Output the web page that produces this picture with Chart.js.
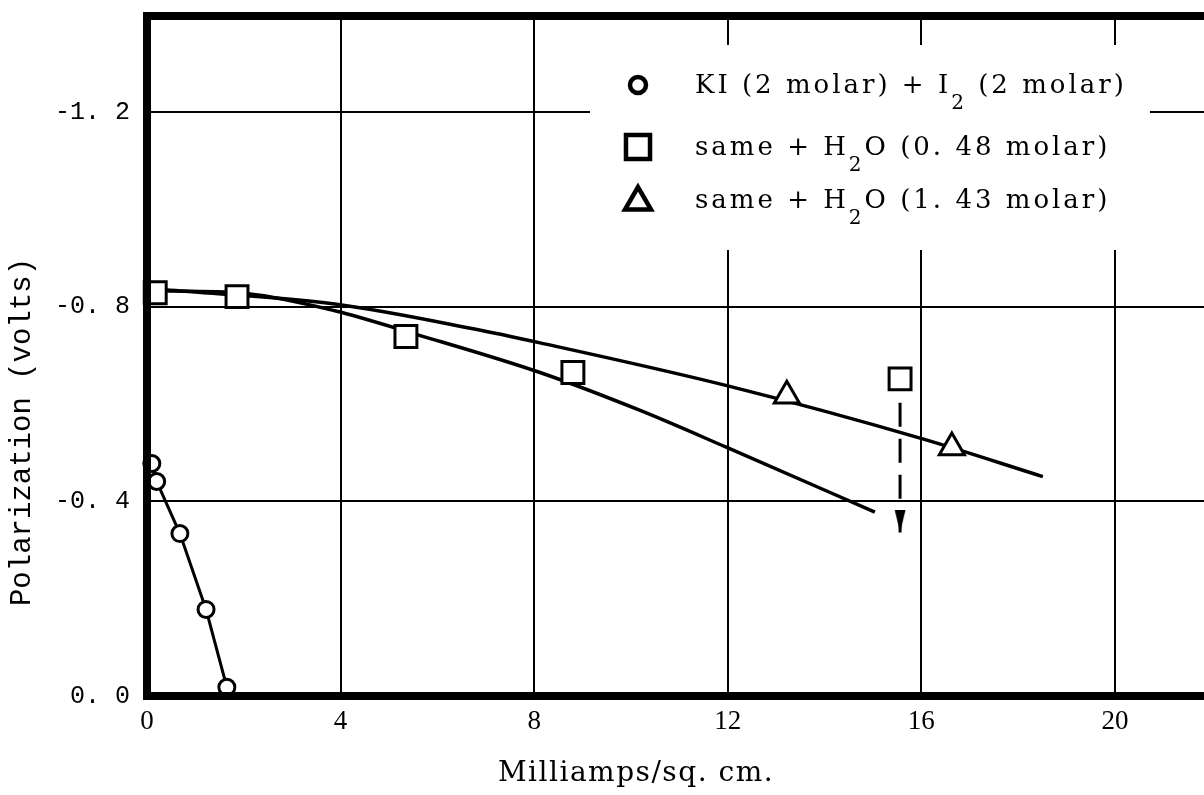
<!DOCTYPE html>
<html>
<head>
<meta charset="utf-8">
<title>Polarization</title>
<script src="https://cdn.jsdelivr.net/npm/chart.js@4.4.0/dist/chart.umd.min.js"></script>
<style>
body{margin:0;background:#fff;}
#caja{width:1204px;height:795px;}
</style>
</head>
<body>
<div id="caja"><canvas id="myChart" width="1204" height="795"></canvas></div>
<script>
// puntos medidos
var kiX = [0.1, 0.2, 0.68, 1.22, 1.65];
var kiY = [-0.478, -0.441, -0.334, -0.178, -0.018];

var h2o48X = [0.17, 1.86, 5.35, 8.80, 15.56];
var h2o48Y = [-0.829, -0.821, -0.739, -0.665, -0.652];

var h2o143X = [13.22, 16.63];
var h2o143Y = [-0.617, -0.511];

// curvas a mano
var curva48X = [0.37, 2.09, 3.88, 5.58, 8.12, 10.19, 11.98, 15.04];
var curva48Y = [-0.833, -0.827, -0.792, -0.743, -0.665, -0.587, -0.511, -0.378];

var curva143X = [0.37, 3.88, 6.74, 8.12, 11.98, 16.01, 18.51];
var curva143Y = [-0.835, -0.806, -0.755, -0.726, -0.638, -0.529, -0.451];

var flechaX = [15.56, 15.56];
var flechaY = [-0.603, -0.336];

var xTicks = [0, 4, 8, 12, 16, 20];
var yTicks = [0, -0.4, -0.8, -1.2];
var yEtiquetas = ['0. 0', '-0. 4', '-0. 8', '-1. 2'];

var leyenda = [
    ['KI (2 molar) + I', '2', ' (2 molar)'],
    ['same + H', '2', 'O (0. 48 molar)'],
    ['same + H', '2', 'O (1. 43 molar)']
];
var tituloX = 'Milliamps/sq. cm.';
var tituloY = 'Polarization (volts)';

function puntos(xs, ys){
    var r = [];
    for(var i=0;i<xs.length;i++){
        r.push({x: xs[i], y: ys[i]});
    }
    return r;
}

function sinPadding(s){
    s.paddingTop = 0;
    s.paddingBottom = 0;
    s.paddingLeft = 0;
    s.paddingRight = 0;
    s.getPadding = function(){
        return {left: 0, top: 0, right: 0, bottom: 0};
    };
}

// punta de flecha
var punta = document.createElement('canvas');
punta.width = 12;
punta.height = 46;
var pc = punta.getContext('2d');
pc.fillStyle = '#000';
pc.beginPath();
pc.moveTo(0.5, 0);
pc.lineTo(11.5, 0);
pc.lineTo(6, 23);
pc.closePath();
pc.fill();

var marco = {
    id: 'marco',
    beforeDatasetsDraw: function(chart){
        var ctx = chart.ctx;
        ctx.save();
        ctx.fillStyle = '#fff';
        ctx.fillRect(590, 45, 560, 205);
        ctx.restore();
    },
    afterDatasetsDraw: function(chart){
        var ctx = chart.ctx;
        var a = chart.chartArea;
        ctx.save();
        ctx.strokeStyle = '#000';
        ctx.lineWidth = 8;
        ctx.lineCap = 'square';
        ctx.beginPath();
        ctx.moveTo(a.right + 10, 16);
        ctx.lineTo(a.left, 16);
        ctx.lineTo(a.left, a.bottom);
        ctx.lineTo(a.right + 10, a.bottom);
        ctx.stroke();

        // leyenda
        var filas = [85, 147, 202];
        var bases = [93, 155, 208];
        var radios = [8, 17, 15];
        for(var i=0;i<leyenda.length;i++){
            var ds = chart.data.datasets[i];
            ctx.lineWidth = 4.5;
            ctx.strokeStyle = '#000';
            ctx.fillStyle = '#fff';
            Chart.helpers.drawPoint(ctx, {pointStyle: ds.pointStyle, radius: radios[i], rotation: 0, borderWidth: 4.5}, 638, filas[i]);
            var x = 695;
            ctx.fillStyle = '#000';
            ctx.textBaseline = 'alphabetic';
            ctx.textAlign = 'left';
            ctx.letterSpacing = '3px';
            for(var j=0;j<leyenda[i].length;j++){
                if(j==1){
                    ctx.font = '20px "DejaVu Serif"';
                    ctx.fillText(leyenda[i][j], x, bases[i] + 16);
                }else{
                    ctx.font = '26px "DejaVu Serif"';
                    ctx.fillText(leyenda[i][j], x, bases[i]);
                }
                x += ctx.measureText(leyenda[i][j]).width;
            }
        }

        // titulos
        ctx.letterSpacing = '1.5px';
        ctx.font = '28px "DejaVu Serif"';
        ctx.textAlign = 'center';
        ctx.fillText(tituloX, 636, 781);

        ctx.letterSpacing = '0px';
        ctx.font = '29px "Liberation Mono"';
        ctx.translate(22, 432);
        ctx.rotate(-Math.PI/2);
        ctx.textBaseline = 'middle';
        ctx.fillText(tituloY, 0, 0);
        ctx.restore();
    }
};

var ctx = document.getElementById('myChart');
var chart = new Chart(ctx, {
    type: 'scatter',
    data: {
        datasets: [{
            label: 'KI (2 molar) + I2 (2 molar)',
            data: puntos(kiX, kiY),
            showLine: true,
            borderColor: '#000',
            borderWidth: 3,
            pointStyle: 'circle',
            pointRadius: 8,
            pointBorderWidth: 3,
            pointBackgroundColor: '#fff',
            pointBorderColor: '#000',
            clip: false
        },{
            label: 'same + H2O (0.48 molar)',
            data: puntos(h2o48X, h2o48Y),
            showLine: false,
            pointStyle: 'rect',
            pointRadius: 15.5,
            pointBorderWidth: 3,
            pointBackgroundColor: '#fff',
            pointBorderColor: '#000',
            clip: false
        },{
            label: 'same + H2O (1.43 molar)',
            data: puntos(h2o143X, h2o143Y),
            showLine: false,
            pointStyle: 'triangle',
            pointRadius: 14.5,
            pointBorderWidth: 3,
            pointBackgroundColor: '#fff',
            pointBorderColor: '#000',
            clip: false
        },{
            data: puntos(flechaX, flechaY),
            showLine: true,
            borderColor: '#000',
            borderWidth: 3,
            borderDash: [24, 12],
            pointStyle: ['circle', punta],
            pointRadius: [0, 5],
            clip: false
        },{
            data: puntos(curva48X, curva48Y),
            showLine: true,
            borderColor: '#000',
            borderWidth: 3.5,
            cubicInterpolationMode: 'monotone',
            pointRadius: 0,
            clip: false
        },{
            data: puntos(curva143X, curva143Y),
            showLine: true,
            borderColor: '#000',
            borderWidth: 3.5,
            cubicInterpolationMode: 'monotone',
            pointRadius: 0,
            clip: false
        }]
    },
    options: {
        responsive: false,
        animation: false,
        layout: {autoPadding: false, padding: {top: 15, left: 0, right: 0, bottom: 0}},
        plugins: {
            legend: {display: false},
            tooltip: {enabled: false}
        },
        scales: {
            x: {
                type: 'linear',
                min: 0,
                max: 21.84,
                afterBuildTicks: function(s){
                    s.ticks = xTicks.map(function(v){ return {value: v}; });
                },
                afterFit: function(s){
                    s.height = 99;
                    sinPadding(s);
                },
                border: {display: false},
                grid: {color: '#000', lineWidth: 2, drawTicks: false},
                ticks: {
                    padding: 10,
                    color: '#000',
                    font: {family: 'Liberation Serif', size: 27},
                    callback: function(v){ return '' + v; }
                }
            },
            y: {
                type: 'linear',
                min: -1.4,
                max: 0,
                reverse: true,
                afterBuildTicks: function(s){
                    s.ticks = yTicks.map(function(v){ return {value: v}; });
                },
                afterFit: function(s){
                    s.width = 147;
                    sinPadding(s);
                },
                border: {display: false},
                grid: {color: '#000', lineWidth: 2, drawTicks: false},
                ticks: {
                    padding: 17,
                    color: '#000',
                    font: {family: 'Liberation Mono', size: 25},
                    callback: function(v){
                        var k = yTicks.indexOf(v);
                        return k >= 0 ? yEtiquetas[k] : '';
                    }
                }
            }
        }
    },
    plugins: [marco]
});
</script>
</body>
</html>
